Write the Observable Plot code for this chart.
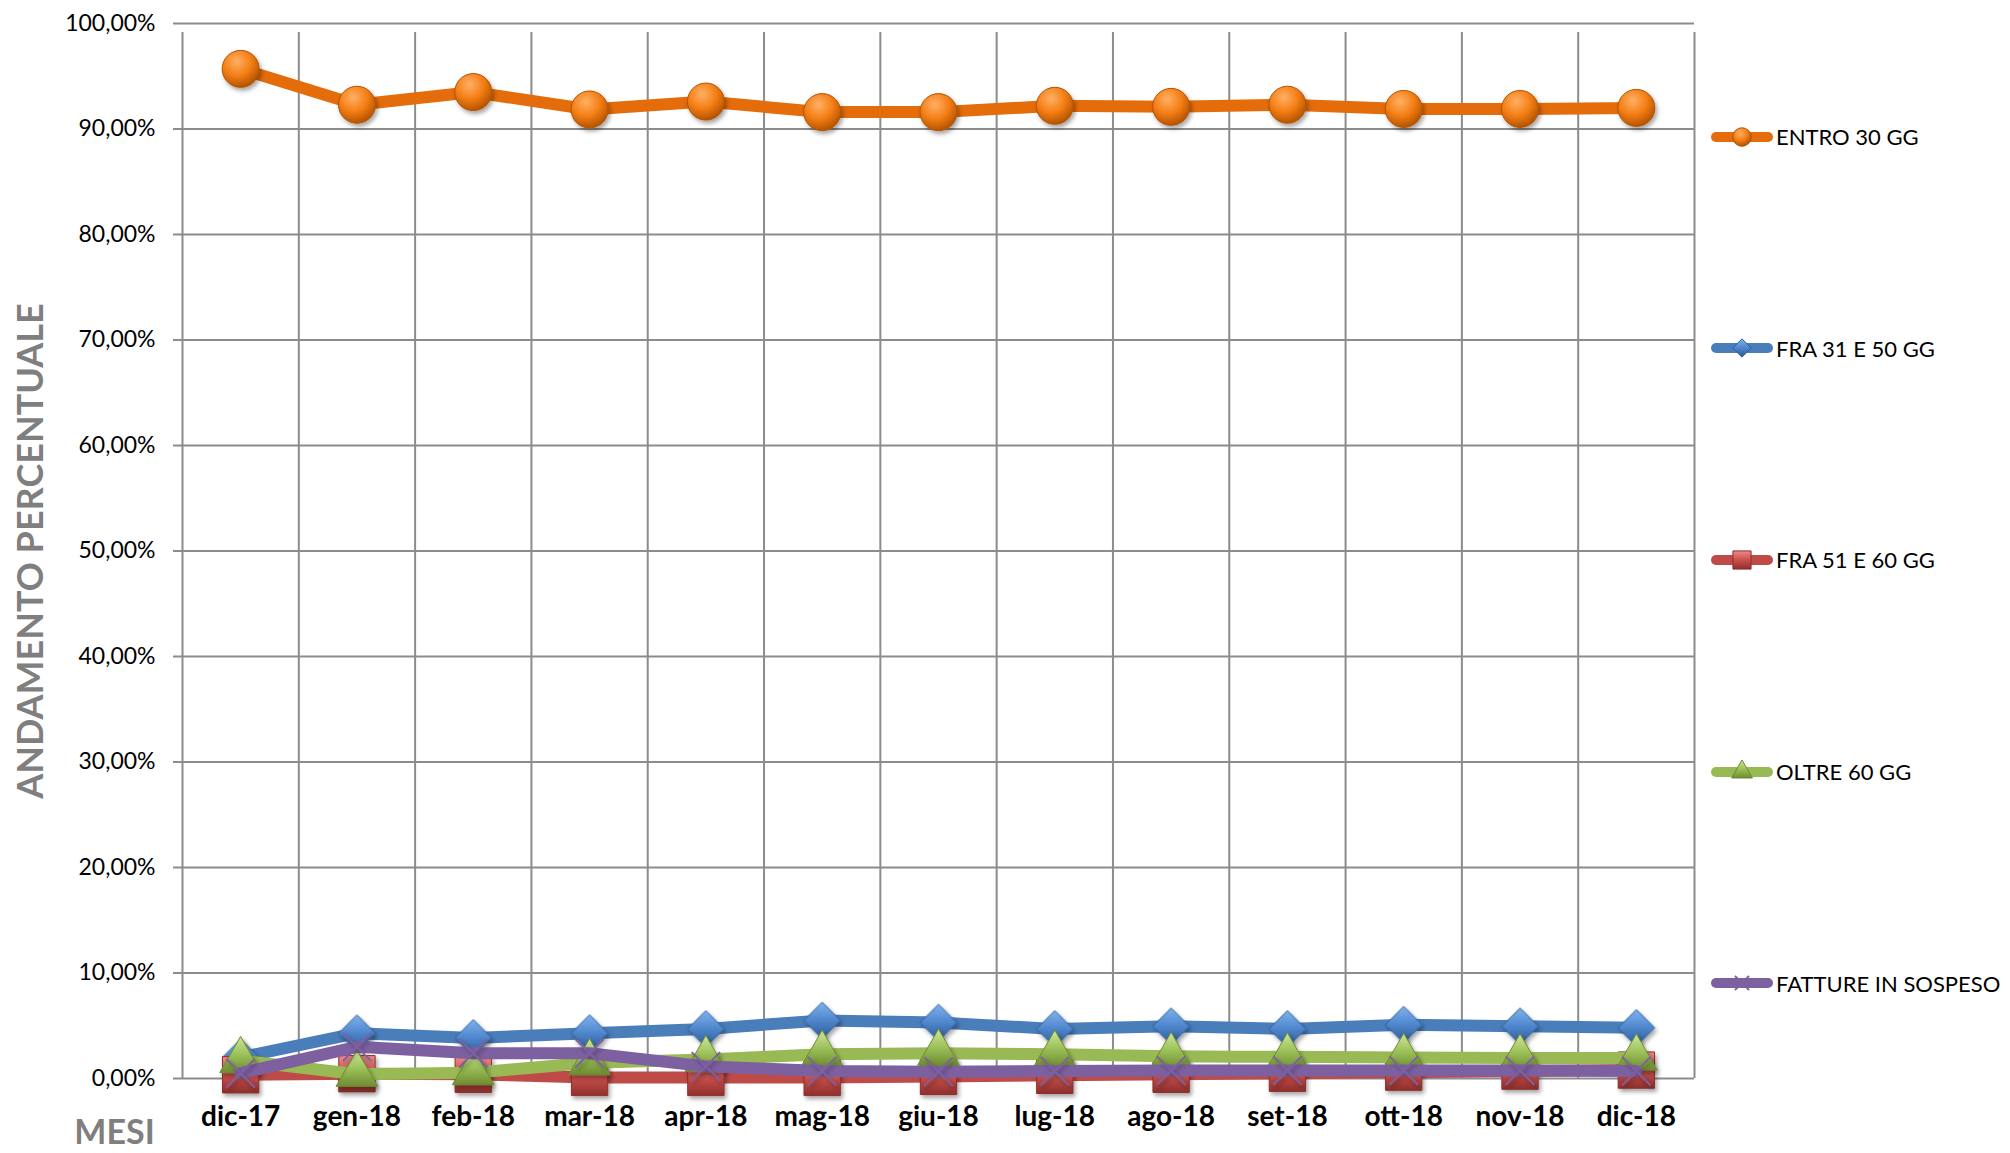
<!DOCTYPE html>
<html>
<head>
<meta charset="utf-8">
<script src="https://cdn.jsdelivr.net/npm/d3@7"></script>
<script src="https://cdn.jsdelivr.net/npm/@observablehq/plot@0.6"></script>
<style>
  html, body { margin: 0; padding: 0; background: #fff; }
  #wrap { position: relative; width: 2010px; height: 1153px; overflow: hidden; font-family: Lato, "Open Sans", sans-serif; }
  #legend { position: absolute; left: 0; top: 0; }
  .lg-item { position: absolute; left: 1708px; height: 30px; display: flex; align-items: center; }
  .lg-item span { font-size: 22px; color: #000; margin-left: 2px; white-space: nowrap; }
</style>
</head>
<body>
<div id="wrap"><div id="legend"></div></div>
<script>
// ---- data ----
const months = ["dic-17","gen-18","feb-18","mar-18","apr-18","mag-18","giu-18","lug-18","ago-18","set-18","ott-18","nov-18","dic-18"];
const seriesNames = ["ENTRO 30 GG","FRA 31 E 50 GG","FRA 51 E 60 GG","OLTRE 60 GG","FATTURE IN SOSPESO"];
const entro30   = [95.7, 92.3, 93.5, 91.85, 92.6, 91.6, 91.6, 92.2, 92.1, 92.3, 91.9, 91.9, 92.0];
const fra31e50  = [2.0, 4.3, 3.85, 4.3, 4.7, 5.5, 5.3, 4.7, 4.95, 4.7, 5.1, 4.95, 4.8];
const fra51e60  = [0.35, 0.45, 0.4, 0.1, 0.1, 0.1, 0.2, 0.3, 0.4, 0.5, 0.6, 0.7, 0.8];
const oltre60   = [1.7, 0.4, 0.55, 1.5, 1.8, 2.3, 2.4, 2.3, 2.1, 2.05, 2.0, 1.95, 1.95];
const sospeso   = [0.5, 3.0, 2.4, 2.4, 1.15, 0.7, 0.65, 0.7, 0.75, 0.75, 0.75, 0.75, 0.7];
const yTicks = [0,10,20,30,40,50,60,70,80,90,100];

const lineColors = ["#E46C0A","#4A7EBB","#BE4B48","#98B954","#7D60A0"];
const markerFills = ["url(#gOrange)","url(#gBlue)","url(#gRed)","url(#gGreen)","none"];
const markerStrokes = ["#B35300","#2F5F96","#8E2F2C","#6E8C31","#7D60A0"];
const symbols = ["circle","diamond2","square","triangle","times"];
const markerR = [18.5, 16.5, 20.5, 15.5, 13];
const allSeries = [entro30, fra31e50, fra51e60, oltre60, sospeso];

const rows = arr => arr.map((v, i) => ({x: i + 0.5, v}));

// ---- gradient defs (document-wide) ----
const defsSvg = d3.select("body").append("svg").attr("width", 0).attr("height", 0).style("position","absolute");
const defs = defsSvg.append("defs");
function radial(id, c1, c2, c3) {
  const g = defs.append("radialGradient").attr("id", id).attr("cx","40%").attr("cy","30%").attr("r","70%");
  g.append("stop").attr("offset","0%").attr("stop-color", c1);
  g.append("stop").attr("offset","55%").attr("stop-color", c2);
  g.append("stop").attr("offset","100%").attr("stop-color", c3);
}
function linear(id, c1, c2, c3) {
  const g = defs.append("linearGradient").attr("id", id).attr("x1","0").attr("y1","0").attr("x2","0").attr("y2","1");
  g.append("stop").attr("offset","0%").attr("stop-color", c1);
  g.append("stop").attr("offset","50%").attr("stop-color", c2);
  g.append("stop").attr("offset","100%").attr("stop-color", c3);
}
radial("gOrange", "#FFB066", "#F47E14", "#B65400");
linear("gBlue", "#7FB2F0", "#4F86CC", "#2D5A92");
linear("gRed", "#EE8A87", "#C9504C", "#8E2F2C");
linear("gGreen", "#CFE69A", "#9CC15A", "#6E8C31");
const f = defs.append("filter").attr("id","shadow").attr("x","-50%").attr("y","-50%").attr("width","200%").attr("height","200%");
f.append("feDropShadow").attr("dx", 2).attr("dy", 3).attr("stdDeviation", 2).attr("flood-color","#000").attr("flood-opacity", 0.35);

// ---- chart ----
const seriesMarks = allSeries.flatMap((arr, k) => [
  Plot.line(rows(arr), {x: "x", y: "v", stroke: lineColors[k], strokeWidth: 12, strokeLinejoin: "round", strokeLinecap: "round"}),
  Plot.dot(rows(arr), {x: "x", y: "v", symbol: symbols[k], r: markerR[k],
    fill: markerFills[k], stroke: markerStrokes[k], strokeWidth: k === 4 ? 2 : 1})
]);

const chart = Plot.plot({
  width: 2010,
  height: 1153,
  marginLeft: 182,
  marginRight: 316,
  marginTop: 23,
  marginBottom: 75,
  x: {type: "linear", domain: [0, 13]},
  y: {domain: [0, 100]},
  style: {fontFamily: "Lato, 'Open Sans', sans-serif", background: "transparent", overflow: "visible", color: "#000"},
  marks: [
    Plot.ruleY(yTicks, {stroke: "#8c8c8c", strokeWidth: 2, insetLeft: -9}),
    Plot.ruleX(d3.range(14), {y1: 0, y2: 100, stroke: "#8c8c8c", strokeWidth: 2, insetBottom: -9}),
    Plot.axisY(yTicks, {tickSize: 0, tickPadding: 27, fontSize: 23, label: null,
      tickFormat: d => d.toFixed(2).replace(".", ",") + "%"}),
    Plot.axisX(d3.range(13).map(i => i + 0.5), {tickSize: 0, tickPadding: 28, fontSize: 28, fontWeight: "bold", label: null,
      tickFormat: d => months[Math.floor(d)]}),
    Plot.text(["ANDAMENTO PERCENTUALE"], {text: d => d, frameAnchor: "left", rotate: -90, dx: -151, textAnchor: "middle",
      lineAnchor: "middle", fontSize: 36, fontWeight: "bold", fill: "#7f7f7f"}),
    Plot.text(["MESI"], {text: d => d, frameAnchor: "bottom-left", dx: -68, dy: 55, textAnchor: "middle",
      lineAnchor: "middle", fontSize: 34, fontWeight: "bold", fill: "#7f7f7f"}),
    ...seriesMarks
  ]
});
d3.select(chart).selectAll('g[aria-label="dot"]').attr("filter", "url(#shadow)");
document.getElementById("wrap").appendChild(chart);

// ---- legend (right side) ----
const legend = d3.select("#legend");
seriesNames.forEach((name, k) => {
  const item = legend.append("div").attr("class", "lg-item").style("top", (136.7 + k * 211.6 - 15) + "px");
  const s = item.append("svg").attr("width", 66).attr("height", 30);
  s.append("line").attr("x1", 8).attr("x2", 60).attr("y1", 15).attr("y2", 15)
    .attr("stroke", lineColors[k]).attr("stroke-width", 10).attr("stroke-linecap", "round");
  const sym = d3.symbol().type({circle: d3.symbolCircle, diamond2: d3.symbolDiamond2, square: d3.symbolSquare,
    triangle: d3.symbolTriangle, times: d3.symbolTimes}[symbols[k]]).size(Math.PI * (markerR[k] * 0.5) ** 2);
  s.append("path").attr("d", sym()).attr("transform", "translate(34,15)")
    .attr("fill", markerFills[k]).attr("stroke", markerStrokes[k]).attr("stroke-width", k === 4 ? 2 : 1);
  item.append("span").text(name);
});
</script>
</body>
</html>
